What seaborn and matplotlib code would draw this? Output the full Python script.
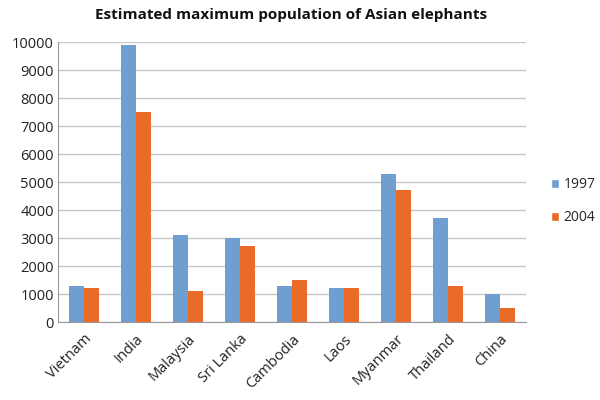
import matplotlib
matplotlib.use("Agg")
import matplotlib.pyplot as plt
import seaborn as sns
import pandas as pd
from matplotlib.patches import Patch
from matplotlib.ticker import FixedLocator

countries = ["Vietnam", "India", "Malaysia", "Sri Lanka", "Cambodia", "Laos",
             "Myanmar", "Thailand", "China"]
pop_1997 = [1300, 9900, 3100, 3000, 1300, 1200, 5300, 3700, 1000]
pop_2004 = [1200, 7500, 1100, 2700, 1500, 1200, 4700, 1300, 500]
years = ["1997", "2004"]
y_ticks = list(range(0, 10001, 1000))

df = pd.DataFrame({
    "country": countries * 2,
    "year": [years[0]] * len(countries) + [years[1]] * len(countries),
    "value": pop_1997 + pop_2004,
})

sns.set_style("white")
plt.rcParams['font.family'] = ['Open Sans', 'DejaVu Sans']

colors = {"1997": "#6f9fd0", "2004": "#ea6a27"}

fig = plt.figure(figsize=(6, 4), dpi=100)
ax = fig.add_axes([0.097, 0.195, 0.78, 0.70])
sns.barplot(data=df, x="country", y="value", hue="year", palette=colors,
            order=countries, hue_order=years, width=0.58, ax=ax,
            saturation=1, legend=False, edgecolor="none")

ax.set_ylim(0, 10000)
ax.set_xlim(-0.5, len(countries) - 0.5)
ax.set_yticks(y_ticks)
ax.set_yticklabels([str(v) for v in y_ticks], fontsize=10.5, color="#222222")
ax.yaxis.grid(True, color="#c8c8c8", linewidth=1)
ax.set_axisbelow(True)
ax.set_xlabel("")
ax.set_ylabel("")
ax.tick_params(axis="x", length=0, pad=7)
ax.tick_params(axis="y", length=0, pad=3)
ax.xaxis.set_minor_locator(FixedLocator([i - 0.5 for i in range(len(countries) + 1)]))
ax.tick_params(axis="x", which="minor", length=5, color="#999999", direction="out")
for lbl in ax.get_xticklabels():
    lbl.set_rotation(45)
    lbl.set_ha("right")
    lbl.set_rotation_mode("anchor")
    lbl.set_fontsize(10.5)
    lbl.set_color("#222222")
for s in ["top", "right"]:
    ax.spines[s].set_visible(False)
ax.spines["left"].set_color("#999999")
ax.spines["bottom"].set_color("#999999")

handles = [Patch(facecolor=colors[y], label=y) for y in years]
fig.legend(handles=handles, loc="center left", bbox_to_anchor=(0.918, 0.497),
           frameon=False, fontsize=10, handlelength=0.6, handleheight=0.6,
           handletextpad=0.3, labelspacing=1.3, borderpad=0, borderaxespad=0)

fig.text(0.485, 0.962, "Estimated maximum population of Asian elephants",
         ha="center", va="center", fontsize=11, fontweight="bold", color="#111111")

fig.savefig("out.png", dpi=100)
